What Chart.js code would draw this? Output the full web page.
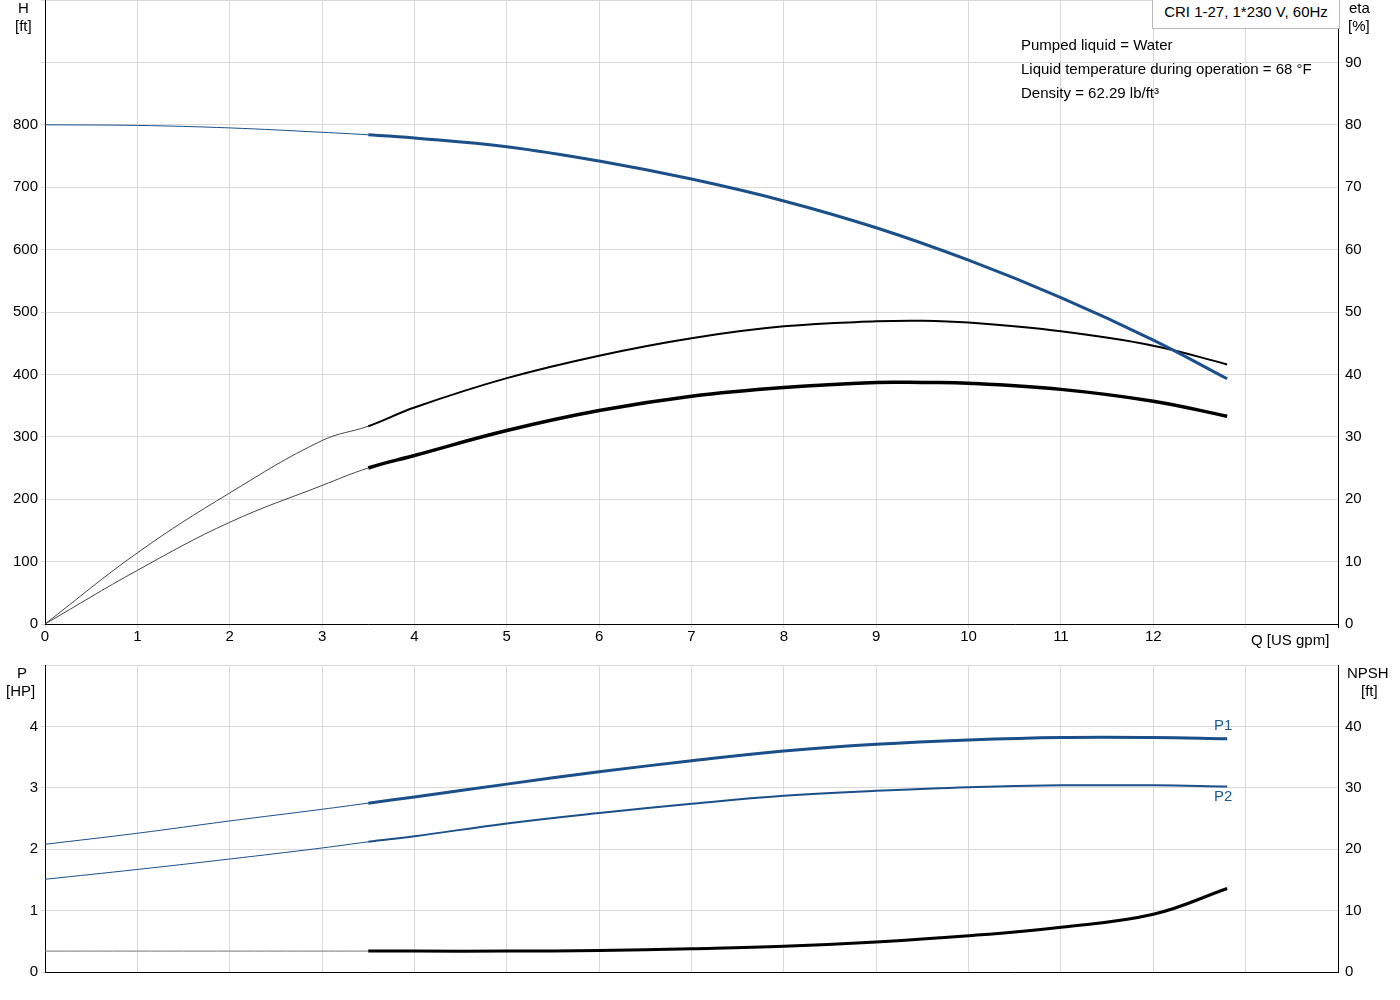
<!DOCTYPE html>
<html><head><meta charset="utf-8">
<script src="https://cdn.jsdelivr.net/npm/chart.js@4"></script>
<style>
body{margin:0;background:#fff;font-family:"Liberation Sans",Arial,sans-serif;font-size:15px;color:#000;overflow:hidden}
#w{position:relative;width:1400px;height:1000px;overflow:hidden}
canvas{position:absolute;left:0}
.t{position:absolute;white-space:nowrap;line-height:17px}
</style></head><body>
<div id="w">
<canvas id="c1" style="top:-12px"></canvas>
<canvas id="c2" style="top:653px"></canvas>
<div class="t" style="left:18px;top:-1px">H</div>
<div class="t" style="left:15px;top:17px">[ft]</div>
<div class="t" style="left:1349px;top:-1px">eta</div>
<div class="t" style="left:1348px;top:17px">[%]</div>
<div class="t" style="left:1251px;top:631px">Q [US gpm]</div>
<div class="t" style="left:1152px;top:0;width:186px;height:28px;border:1px solid #bbb;border-top:none;background:#fff;text-align:center;line-height:24px">CRI 1-27, 1*230 V, 60Hz</div>
<div class="t" style="left:1021px;top:36px">Pumped liquid = Water</div>
<div class="t" style="left:1021px;top:60px">Liquid temperature during operation = 68 °F</div>
<div class="t" style="left:1021px;top:84px">Density = 62.29 lb/ft³</div>
<div class="t" style="left:17px;top:664px">P</div>
<div class="t" style="left:6px;top:682px">[HP]</div>
<div class="t" style="left:1347px;top:664px">NPSH</div>
<div class="t" style="left:1361px;top:682px">[ft]</div>
<div class="t" style="left:1214px;top:716px;color:#1a5a96">P1</div>
<div class="t" style="left:1214px;top:787px;color:#1a5a96">P2</div>
</div>
<script>
const qH=[0,1,2,3,3.5,4,5,6,7,8,9,10,11,12,12.8];
const H=[800,799,795,788,784,779,765,742,713,678,635,583,523,455,393];
const qE=[0,1,2,3,3.5,4,5,6,7,8,9,9.5,10,11,12,12.8];
const etaUpper=[0,11.4,21,29.4,31.7,34.7,39.4,43,45.8,47.7,48.5,48.6,48.3,46.9,44.6,41.6];
const etaLower=[0,8.6,16.3,22.2,25,27,31,34.2,36.5,37.9,38.7,38.7,38.6,37.6,35.7,33.3];
const qP=[0,1,2,3,3.5,4,5,6,7,8,9,10,11,12,12.8];
const P1=[2.08,2.26,2.46,2.65,2.75,2.85,3.06,3.26,3.44,3.60,3.71,3.78,3.82,3.82,3.80];
const P2=[1.51,1.67,1.84,2.02,2.12,2.21,2.42,2.59,2.74,2.87,2.95,3.01,3.04,3.04,3.02];
const NPSH=[3.4,3.4,3.4,3.4,3.4,3.4,3.4,3.5,3.8,4.2,4.9,5.9,7.3,9.4,13.6];
const BLUE='#1a4f8a', GRID='#d9d9d9';
const pts=(xs,ys)=>xs.map((x,i)=>({x,y:ys[i]}));
function ds(data,color,thick,axis,thinColor){
  return {data,borderColor:color,pointRadius:0,tension:0.4,yAxisID:axis,fill:false,
    segment:{borderWidth:c=>c.p0.parsed.x<3.49?1:thick,borderColor:c=>c.p0.parsed.x<3.49?(thinColor||color):color}};
}
const font={family:'"Liberation Sans",Arial,sans-serif',size:15};
Chart.defaults.color='#000';
function mk(id,h,datasets,yl,yr,xh,showX){
  const cv=document.getElementById(id);cv.width=1400;cv.height=h;cv.style.width='1400px';cv.style.height=h+'px';
  return new Chart(cv,{type:'line',data:{datasets},options:{responsive:false,animation:false,devicePixelRatio:1,
    plugins:{legend:{display:false},tooltip:{enabled:false}},layout:{padding:{top:showX?0:5}},
    scales:{
      x:{type:'linear',min:0,max:14,border:{color:'#000'},grid:{color:c=>c.tick.value===14?'#000':GRID,drawTicks:showX,tickLength:4},
        ticks:{display:showX,stepSize:1,font,maxRotation:0,autoSkip:false,padding:0,callback:v=>v<=12?v:''},afterFit:s=>{s.height=xh}},
      yl:{position:'left',min:0,max:yl.max,border:{color:'#000'},grid:{color:GRID,tickLength:4},
        ticks:{stepSize:yl.step,font,padding:3,callback:v=>v<=yl.lab?v:''},afterFit:s=>{s.width=45}},
      yr:{position:'right',min:0,max:yr.max,border:{color:'#000'},grid:{display:false,drawOnChartArea:false,tickLength:4},
        ticks:{stepSize:yr.step,font,padding:3,callback:v=>v<=yr.lab?v:''},afterFit:s=>{s.width=62}}
    }}});
}
mk('c1',672,[
  ds(pts(qH,H),BLUE,3,'yl'),
  ds(pts(qE,etaUpper),'#000',2,'yr','#444'),
  ds(pts(qE,etaLower),'#000',3.5,'yr','#444')
],{max:1000,step:100,lab:800},{max:100,step:10,lab:90},36,true);
mk('c2',347,[
  ds(pts(qP,P1),BLUE,3,'yl'),
  ds(pts(qP,P2),BLUE,2,'yl'),
  ds(pts(qP,NPSH),'#000',3,'yr','#777')
],{max:5,step:1,lab:4},{max:50,step:10,lab:40},28,false);
</script>
</body></html>
